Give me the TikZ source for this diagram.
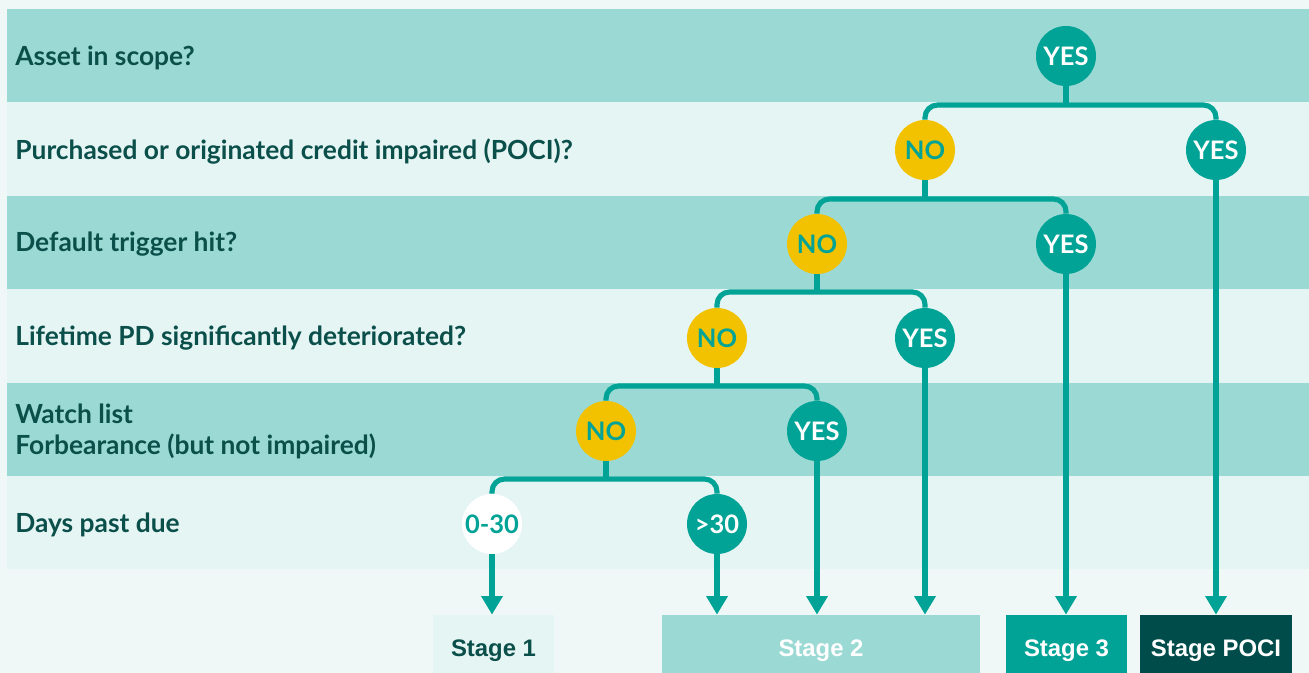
\documentclass[tikz,border=0pt]{standalone}
\usepackage{fontspec}
\newfontfamily\rowfont{Lato}
\newfontfamily\stagefont{Liberation Sans}
\usetikzlibrary{arrows.meta,positioning}

\definecolor{bgpale}{HTML}{F0F8F7}
\definecolor{banddark}{HTML}{9BD9D4}
\definecolor{bandlight}{HTML}{E5F5F3}
\definecolor{ecbteal}{HTML}{00A395}
\definecolor{ink}{HTML}{0B4F4B}
\definecolor{gold}{HTML}{F2C200}
\definecolor{deepteal}{HTML}{004C4A}

\tikzset{
	answer/.style={circle, minimum size=1.2cm, inner sep=0pt,
		font=\rowfont\bfseries\fontsize{14.5}{15}\selectfont},
	yesnode/.style={answer, fill=ecbteal, text=white},
	nonode/.style={answer, fill=gold, text=ecbteal},
	dpdnode/.style={answer, fill=white, text=ecbteal},
	rowlabel/.style={anchor=west, align=left, inner sep=0pt, text=ink,
		font=\rowfont\bfseries\fontsize{15}{18}\selectfont},
	stagebox/.style={minimum height=1.44cm, inner sep=0pt,
		font=\stagefont\bfseries\fontsize{13.6}{14}\selectfont},
	link/.style={draw=ecbteal, line width=2.9pt, rounded corners=0.25cm},
	arrow/.style={link, -{Triangle[width=0.41cm,length=0.37cm]}}
}

\begin{document}
\begin{tikzpicture}[x=0.02cm, y=-0.02cm]
	\def\xstart{7}   % Left edge of the bands
	\def\ystart{9}   % Top edge of the first band
	\def\rowh{93.4}  % Height of one band
	
	% Background and bounding box
	\fill[bgpale] (0,0) rectangle (1309,673);
	\useasboundingbox (0,0) rectangle (1309,673);
	
	% Draw the question bands
	\foreach \i in {0, ..., 5} {
		\pgfmathsetmacro{\ytop}{\ystart + \i * \rowh}
		\ifodd\i \def\bandcol{bandlight}\else \def\bandcol{banddark}\fi
		\fill[\bandcol] (\xstart,\ytop) rectangle (1309,\ytop+\rowh);
	}
	
	% Questions, one per band
	\foreach \i/\txt in {1/{Asset in scope?},
		2/{Purchased or originated credit impaired (POCI)?},
		3/{Default trigger hit?},
		4/{Lifetime PD significantly deteriorated?},
		5/{Watch list\\Forbearance (but not impaired)},
		6/{Days past due}} {
		\pgfmathsetmacro{\y}{\ystart + (\i-.5) * \rowh + 2}
		\node[rowlabel] (q\i) at (15,\y) {\txt};
	}
	
	% Answers
	\node[yesnode] (yesA) at (1066,56) {YES};
	\node[nonode]  (noB)  at (925,150) {NO};
	\node[yesnode] (yesB) at (1216,150) {YES};
	\node[nonode]  (noC)  at (817,244) {NO};
	\node[yesnode] (yesC) at (1066,244) {YES};
	\node[nonode]  (noD)  at (717,338) {NO};
	\node[yesnode] (yesD) at (925,338) {YES};
	\node[nonode]  (noE)  at (606,431) {NO};
	\node[yesnode] (yesE) at (817,431) {YES};
	\node[dpdnode] (dpdLow)  at (492,524) {0-30};
	\node[yesnode] (dpdHigh) at (717,524) {>30};
	
	% Stages (cut off by the lower edge)
	\node[stagebox, fill=bandlight, text=ink, minimum width=2.42cm] (stageA) at (493.5,651) {Stage 1};
	\node[stagebox, fill=banddark, text=white, minimum width=6.36cm] (stageB) at (821,651) {Stage 2};
	\node[stagebox, fill=ecbteal, text=white, minimum width=2.42cm] (stageC) at (1066.5,651) {Stage 3};
	\node[stagebox, fill=deepteal, text=white, minimum width=3.04cm] (stageP) at (1216,651) {Stage POCI};
	
	% Branches
	\coordinate (jA) at (1066,105);
	\coordinate (jB) at (925,199);
	\coordinate (jC) at (817,292);
	\coordinate (jD) at (717,386);
	\coordinate (jE) at (606,479);
	\foreach \up/\j/\l/\r in {yesA/jA/noB/yesB, noB/jB/noC/yesC, noC/jC/noD/yesD,
		noD/jD/noE/yesE, noE/jE/dpdLow/dpdHigh} {
		\draw[link] (\up.south) -- (\j);
		\draw[link] (\l.north) |- (\j) -| (\r.north);
	}
	
	% Arrows down to the stages
	\draw[arrow] (dpdLow.south) -- (dpdLow.south |- stageA.north);
	\foreach \leaf in {dpdHigh, yesE, yesD} {
		\draw[arrow] (\leaf.south) -- (\leaf.south |- stageB.north);
	}
	\draw[arrow] (yesC.south) -- (yesC.south |- stageC.north);
	\draw[arrow] (yesB.south) -- (yesB.south |- stageP.north);
\end{tikzpicture}
\end{document}
